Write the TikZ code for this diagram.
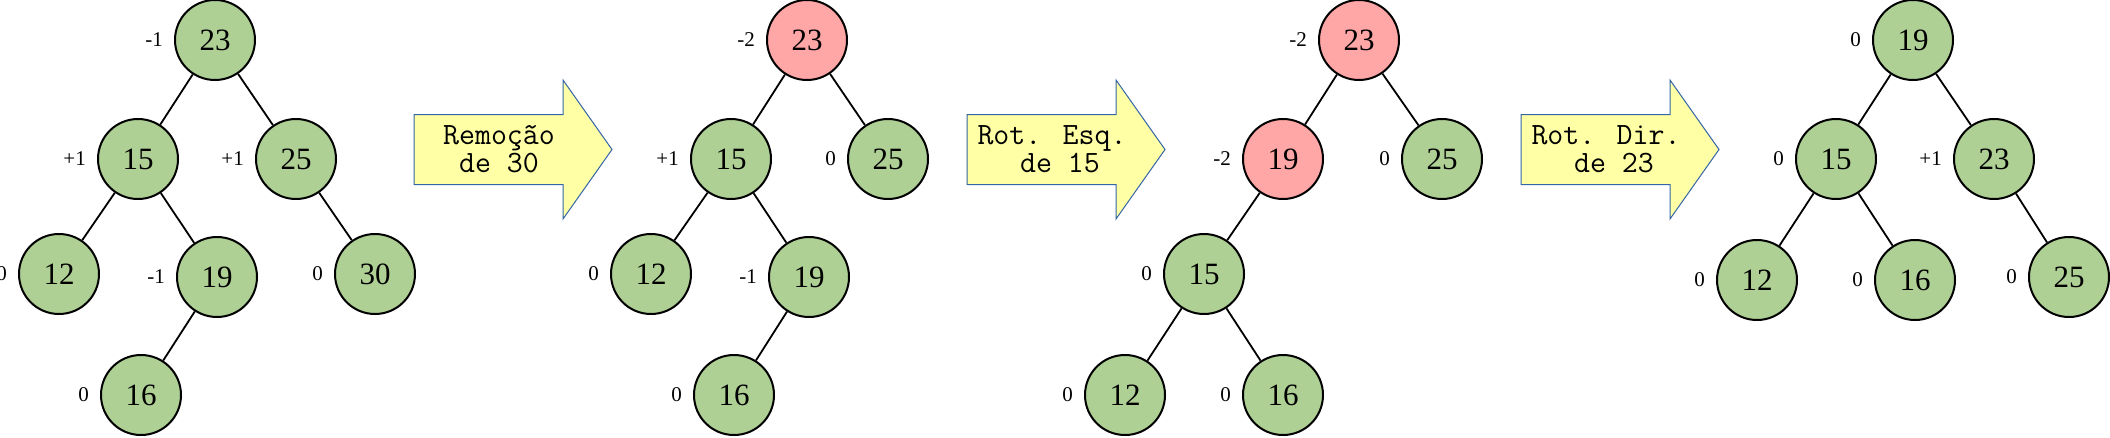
\documentclass[tikz,border=0pt]{standalone}
\usepackage{fontspec}
\setmainfont{Liberation Serif}
\definecolor{verde}{HTML}{AFD095}
\definecolor{vermelho}{HTML}{FFA6A6}
\definecolor{amarelo}{HTML}{FFFFA6}
\definecolor{borda}{HTML}{3465A4}
\tikzset{
  vertice/.style={circle,draw,line width=2pt,fill=verde,minimum size=80pt,inner sep=0pt,font=\fontsize{31}{31}\selectfont},
  vdesb/.style={vertice,fill=vermelho},
  every label/.style={font=\fontsize{21}{21}\selectfont,inner sep=0pt},
  seta/.style={draw=borda,fill=amarelo,line width=1pt},
  textoseta/.style={font=\ttfamily\fontsize{31}{28}\selectfont,align=center,inner sep=0pt},
  aresta/.style={line width=1.8pt}
}
\begin{document}
\begin{tikzpicture}[x=1pt,y=-1pt,label distance=11pt]
	\useasboundingbox (0,0) rectangle (2110,437);
	% setas entre as arvores
	\foreach \x/\txt [count=\i] in {414/{Remoção\\de 30},967/{Rot. Esq.\\\hphantom{x}de 15},1521/{Rot. Dir.\\\hphantom{x}de 23}}{
		\draw[seta] (\x,114.5) -- ++(149,0) -- ++(0,-34.5) -- ++(49,69.5) -- ++(-49,69.5) -- ++(0,-34.5) -- ++(-149,0) -- cycle;
		\node[textoseta] (seta\i) at (\x+85,149.5) {\txt};
	}
	% arvore inicial
	\node[vertice,label=left:-1] (a23) at (215,40) {23};
	\node[vertice,label=left:+1] (a15) at (138,159) {15};
	\node[vertice,label=left:+1] (a25) at (296,159) {25};
	\node[vertice,label=left:0] (a12) at (59,274) {12};
	\node[vertice,label=left:-1] (a19) at (217,277) {19};
	\node[vertice,label=left:0] (a30) at (375,274) {30};
	\node[vertice,label=left:0] (a16) at (141,395) {16};
	% depois da remocao
	\node[vdesb,label=left:-2] (b23) at (807,40) {23};
	\node[vertice,label=left:+1] (b15) at (731,159) {15};
	\node[vertice,label=left:0] (b25) at (888,159) {25};
	\node[vertice,label=left:0] (b12) at (651,274) {12};
	\node[vertice,label=left:-1] (b19) at (809,277) {19};
	\node[vertice,label=left:0] (b16) at (734,395) {16};
	% depois da rotacao esquerda
	\node[vdesb,label=left:-2] (c23) at (1359,40) {23};
	\node[vdesb,label=left:-2] (c19) at (1283,159) {19};
	\node[vertice,label=left:0] (c25) at (1442,159) {25};
	\node[vertice,label=left:0] (c15) at (1204,274) {15};
	\node[vertice,label=left:0] (c12) at (1125,395) {12};
	\node[vertice,label=left:0] (c16) at (1283,395) {16};
	% depois da rotacao direita
	\node[vertice,label=left:0] (d19) at (1913,40) {19};
	\node[vertice,label=left:0] (d15) at (1836,159) {15};
	\node[vertice,label=left:+1] (d23) at (1994,159) {23};
	\node[vertice,label=left:0] (d12) at (1757,280) {12};
	\node[vertice,label=left:0] (d16) at (1915,280) {16};
	\node[vertice,label=left:0] (d25) at (2069,277) {25};
	\foreach \p/\f in {a23/a15,a23/a25,a15/a12,a15/a19,a19/a16,a25/a30,
		b23/b15,b23/b25,b15/b12,b15/b19,b19/b16,
		c23/c19,c23/c25,c19/c15,c15/c12,c15/c16,
		d19/d15,d19/d23,d15/d12,d15/d16,d23/d25}
		\draw[aresta] (\p) -- (\f);
\end{tikzpicture}
\end{document}
